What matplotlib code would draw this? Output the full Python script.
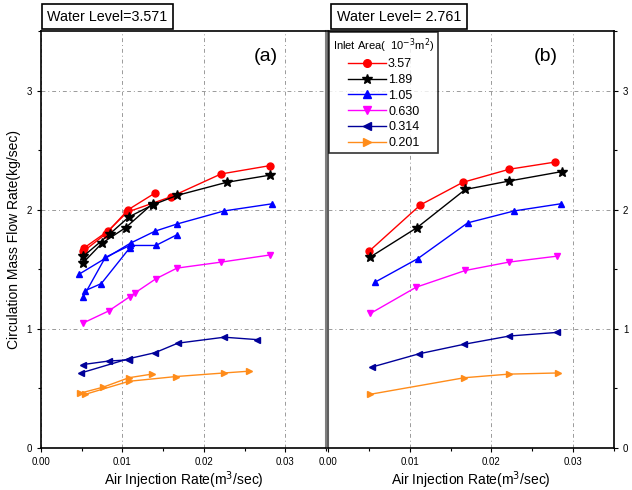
import matplotlib
matplotlib.use("Agg")
import matplotlib.pyplot as plt
from matplotlib.ticker import MultipleLocator

plt.rcParams['font.family'] = ['Liberation Sans', 'DejaVu Sans']

# inlet areas (10^-3 m^2) and series styles
areas = ['3.57', '1.89', '1.05', '0.630', '0.314', '0.201']
colors = ['#ff0000', '#000000', '#0000ff', '#ff00ff', '#000099', '#ff8c1a']
markers = ['o', '*', '^', 'v', '<', '>']

# (a) water level 3.571 -- several repeated runs per inlet area
a_runs = {
    '3.57': [
        ([0.0052, 0.0080, 0.0107, 0.0140], [1.65, 1.80, 2.00, 2.14]),
        ([0.0053, 0.0082, 0.0106, 0.0160, 0.0221, 0.0281], [1.68, 1.82, 1.98, 2.11, 2.30, 2.37]),
    ],
    '1.89': [
        ([0.0051, 0.0075, 0.0104, 0.0137], [1.55, 1.72, 1.85, 2.05]),
        ([0.0052, 0.0085, 0.0108, 0.0137, 0.0167, 0.0228, 0.0281], [1.61, 1.80, 1.94, 2.04, 2.12, 2.23, 2.29]),
    ],
    '1.05': [
        ([0.0047, 0.0110, 0.0140, 0.0167, 0.0225, 0.0284], [1.46, 1.72, 1.82, 1.88, 1.99, 2.05]),
        ([0.0052, 0.0079, 0.0109, 0.0141, 0.0167], [1.27, 1.60, 1.70, 1.70, 1.79]),
        ([0.0054, 0.0074, 0.0109], [1.32, 1.38, 1.68]),
    ],
    '0.630': [
        ([0.0052, 0.0083, 0.0109, 0.0115, 0.0141, 0.0167, 0.0221, 0.0281], [1.05, 1.15, 1.27, 1.30, 1.42, 1.51, 1.56, 1.62]),
    ],
    '0.314': [
        ([0.0051, 0.0083, 0.0108], [0.70, 0.73, 0.74]),
        ([0.0049, 0.0108, 0.0140, 0.0168, 0.0225, 0.0265], [0.63, 0.75, 0.80, 0.88, 0.93, 0.91]),
    ],
    '0.201': [
        ([0.0048, 0.0076, 0.0108, 0.0136], [0.46, 0.51, 0.59, 0.62]),
        ([0.0054, 0.0108, 0.0166, 0.0225, 0.0256], [0.45, 0.56, 0.60, 0.63, 0.645]),
    ],
}

# (b) water level 2.761
b_x = {
    '3.57': [0.0050, 0.0113, 0.0165, 0.0222, 0.0278],
    '1.89': [0.0051, 0.0109, 0.0168, 0.0221, 0.0286],
    '1.05': [0.0057, 0.0110, 0.0171, 0.0228, 0.0285],
    '0.630': [0.0052, 0.0108, 0.0168, 0.0221, 0.0280],
    '0.314': [0.0054, 0.0111, 0.0166, 0.0222, 0.0280],
    '0.201': [0.0051, 0.0167, 0.0221, 0.0282],
}
b_y = {
    '3.57': [1.65, 2.04, 2.23, 2.34, 2.40],
    '1.89': [1.60, 1.85, 2.17, 2.24, 2.32],
    '1.05': [1.39, 1.59, 1.89, 1.99, 2.05],
    '0.630': [1.13, 1.35, 1.49, 1.56, 1.61],
    '0.314': [0.68, 0.79, 0.87, 0.94, 0.97],
    '0.201': [0.45, 0.59, 0.62, 0.63],
}

fig = plt.figure(figsize=(6.32, 4.9), dpi=100)
ax1 = fig.add_axes([0.0649, 0.0857, 0.4509, 0.851])
ax2 = fig.add_axes([0.519, 0.0857, 0.4525, 0.851])

def style_axes(ax):
    ax.set_xlim(0, 0.035)
    ax.set_ylim(0, 3.5)
    ax.xaxis.set_major_locator(MultipleLocator(0.01))
    ax.xaxis.set_minor_locator(MultipleLocator(0.005))
    ax.yaxis.set_major_locator(MultipleLocator(1))
    ax.yaxis.set_minor_locator(MultipleLocator(0.5))
    ax.xaxis.set_major_formatter(matplotlib.ticker.FormatStrFormatter('%.2f'))
    ax.tick_params(which='both', direction='out', labelsize=7, length=3, width=0.8)
    ax.tick_params(which='minor', length=2)
    ax.grid(True, which='major', color='#9a9a9a', linestyle=(0, (4, 3, 1, 3)), linewidth=0.7)
    for s in ax.spines.values():
        s.set_linewidth(1.2)
    ax.set_xlabel('Air Injection Rate(m$^3$/sec)', fontsize=10, labelpad=2)

style_axes(ax1)
style_axes(ax2)
ax1.spines['right'].set_color('#808080')
ax1.spines['right'].set_linewidth(1.5)
ax2.spines['left'].set_color('#606060')
ax2.spines['left'].set_linewidth(1.5)
ax2.yaxis.tick_right()
ax1.set_ylabel('Circulation Mass Flow Rate(kg/sec)', fontsize=10, labelpad=4)

for area, c, m in zip(areas, colors, markers):
    ms = 7 if m == '*' else 5
    for xs, ys in a_runs[area]:
        ax1.plot(xs, ys, color=c, marker=m, markersize=ms, linewidth=1.0)
    ax2.plot(b_x[area], b_y[area], color=c, marker=m, markersize=ms, linewidth=1.0, label=area)

ax1.text(0.79, 0.938, '(a)', transform=ax1.transAxes, fontsize=14, ha='center', va='center')
ax2.text(0.76, 0.938, '(b)', transform=ax2.transAxes, fontsize=14, ha='center', va='center')

box = dict(boxstyle='square,pad=0.38', facecolor='white', edgecolor='black', linewidth=1.2)
fig.text(0.075, 0.952, 'Water Level=3.571', fontsize=10.3, ha='left', va='bottom', bbox=box)
fig.text(0.533, 0.952, 'Water Level= 2.761', fontsize=10.3, ha='left', va='bottom', bbox=box)

leg = ax2.legend(title='Inlet Area(  10$^{-3}$m$^2$)', loc='upper left', bbox_to_anchor=(0.0, 1.0),
                 fontsize=9, title_fontsize=8, frameon=True, fancybox=False, edgecolor='black',
                 borderpad=0.3, labelspacing=0.3, handlelength=3.0, handletextpad=0.2,
                 borderaxespad=0.1, markerscale=1.1)
leg.get_frame().set_linewidth(1.2)
leg.get_title().set_ha('left')

fig.savefig('out.png', dpi=100)
